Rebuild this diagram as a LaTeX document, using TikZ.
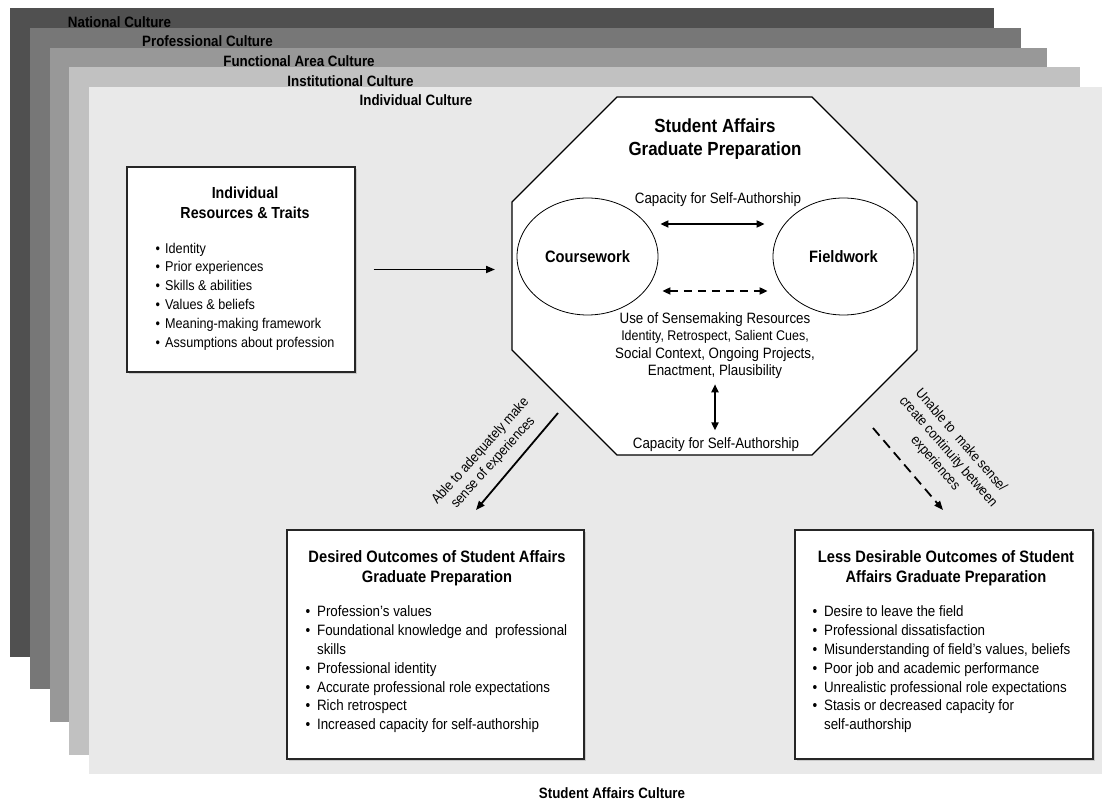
\documentclass[tikz,border=0pt]{standalone}
\usepackage{fontspec}
\setmainfont{Liberation Sans}[FakeStretch=0.89]
\usepackage{tikz}
\usetikzlibrary{positioning, shapes.geometric, arrows.meta, calc, shadows}
\usepackage{xcolor}

\definecolor{nationalgray}{HTML}{505050}
\definecolor{professionalgray}{HTML}{777777}
\definecolor{functionalgray}{HTML}{989898}
\definecolor{institutionalgray}{HTML}{C1C1C1}
\definecolor{individualgray}{HTML}{E9E9E9}

\newcommand{\bul}[1][11.5pt]{\makebox[#1][l]{\textbullet}}

\begin{document}
\begin{tikzpicture}[
    x=1pt, y=1pt,
    layer label/.style={font=\fontsize{15}{18}\selectfont\bfseries, inner sep=0pt},
    box/.style={draw=black!85, line width=1.3pt, fill=white,
        drop shadow={shadow xshift=2pt, shadow yshift=-2pt, opacity=0.3}},
    box title/.style={font=\fontsize{16.5}{20}\selectfont\bfseries, align=center, inner sep=0pt},
    item list/.style={font=\fontsize{15}{18.8}\selectfont, align=left, inner sep=0pt, anchor=west},
    plain text/.style={font=\fontsize{15}{17.6}\selectfont, align=center, inner sep=0pt},
    slanted text/.style={font=\fontsize{14}{17}\selectfont, align=center, inner sep=0pt},
    area/.style={ellipse, draw, line width=0.8pt, minimum width=141pt, minimum height=117pt,
        font=\fontsize{16.5}{20}\selectfont\bfseries},
    main arrow/.style={line width=1.8pt, -{Triangle[length=9pt,width=7pt]}},
    both arrow/.style={line width=1.8pt, {Triangle[length=8pt,width=7pt]}-{Triangle[length=8pt,width=7pt]}}
]
    \useasboundingbox (0,0) rectangle (1102,806);

    % Culture layers
    \fill[nationalgray] (10,149) rectangle (994,798);
    \fill[professionalgray] (30,117) rectangle (1021,778);
    \fill[functionalgray] (50,84) rectangle (1047,758);
    \fill[institutionalgray] (69,51) rectangle (1080,739);
    \fill[individualgray] (89,32) rectangle (1102,719);

    \node[layer label] (national) at (119.5,784) {National Culture};
    \node[layer label] (professional) at (207.5,765) {Professional Culture};
    \node[layer label] (functional) at (299,745) {Functional Area Culture};
    \node[layer label] (institutional) at (350.5,725) {Institutional Culture};
    \node[layer label] (individual) at (416,706) {Individual Culture};
    \node[layer label] (sacculture) at (612,13) {Student Affairs Culture};

    % Graduate preparation octagon
    \draw[line width=1.3pt, fill=white] (617,709) -- (812,709) -- (917,604) -- (917,456)
        -- (812,351) -- (617,351) -- (512,456) -- (512,604) -- cycle;
    \coordinate (octwest) at (512,536.5);

    \node[box title, font=\fontsize{19}{23}\selectfont\bfseries] (prep) at (715,667.3)
        {Student Affairs\\Graduate Preparation};
    \node[plain text] (captop) at (718,606.4) {Capacity for Self-Authorship};
    \node[area] (course) at (587.5,549.5) {Coursework};
    \node[area] (field) at (843.5,549.5) {Fieldwork};
    \node[plain text] (sense) at (715,460.3)
        {Use of Sensemaking Resources\\
         \fontsize{14}{17.6}\selectfont Identity, Retrospect, Salient Cues,\\
         Social Context, Ongoing Projects,\\
         Enactment, Plausibility};
    \node[plain text] (capbot) at (716,361.4) {Capacity for Self-Authorship};

    % Individual resources
    \node[box, minimum width=228pt, minimum height=205pt] (traits) at (241,536.5) {};
    \node[box title, font=\fontsize{16}{20}\selectfont\bfseries] (traitstitle) at (245,603.7)
        {Individual\\Resources \& Traits};
    \node[item list, font=\fontsize{14.2}{18.8}\selectfont] (traitslist) at (155.5,509.6)
        {\bul[9.5pt]Identity\\
         \bul[9.5pt]Prior experiences\\
         \bul[9.5pt]Skills \& abilities\\
         \bul[9.5pt]Values \& beliefs\\
         \bul[9.5pt]Meaning-making framework\\
         \bul[9.5pt]Assumptions about profession};

    % Outcomes
    \node[box, minimum width=297pt, minimum height=229pt] (desired) at (435.5,161.5) {};
    \node[box title] (desiredtitle) at (437,237.3)
        {Desired Outcomes of Student Affairs\\Graduate Preparation};
    \node[item list] (desiredlist) at (305.4,136.5)
        {\bul Profession's values\\
         \bul Foundational knowledge and\ \ professional\\
         \makebox[11.5pt]{}skills\\
         \bul Professional identity\\
         \bul Accurate professional role expectations\\
         \bul Rich retrospect\\
         \bul Increased capacity for self-authorship};

    \node[box, minimum width=298pt, minimum height=229pt] (lessdesired) at (944,161.5) {};
    \node[box title] (lesstitle) at (946,237.3)
        {Less Desirable Outcomes of Student\\Affairs Graduate Preparation};
    \node[item list] (lesslist) at (812.4,136.5)
        {\bul Desire to leave the field\\
         \bul Professional dissatisfaction\\
         \bul Misunderstanding of field's values, beliefs\\
         \bul Poor job and academic performance\\
         \bul Unrealistic professional role expectations\\
         \bul Stasis or decreased capacity for\\
         \makebox[11.5pt]{}self-authorship};

    % Arrows
    \draw[main arrow, shorten >=17pt] ([xshift=18pt]traits.east) -- (octwest);
    \draw[both arrow] ($(course.east)+(2,32.5)$) -- ($(field.west)+(-8,32.5)$);
    \draw[both arrow, dash pattern=on 8pt off 6pt] ($(course.east)+(4,-34.5)$) -- ($(field.west)+(-5,-34.5)$);
    \draw[both arrow, shorten <=5pt, shorten >=7pt] (sense.south) -- (sense.south |- capbot.north);

    \coordinate (ablestart) at (558,393);
    \coordinate (ableend) at (476,296);
    \coordinate (unablestart) at (873,378);
    \coordinate (unableend) at (943,296);
    \draw[main arrow] (ablestart) -- (ableend);
    \draw[main arrow, dash pattern=on 10pt off 6pt] (unablestart) -- (unableend);

    \node[slanted text, rotate=48] (able) at (487,349)
        {Able to adequately make\\sense of experiences};
    \node[slanted text, rotate=-49] (unable) at (948,354)
        {Unable to\ \ make sense/\\create continuity between\\experiences};
\end{tikzpicture}
\end{document}
